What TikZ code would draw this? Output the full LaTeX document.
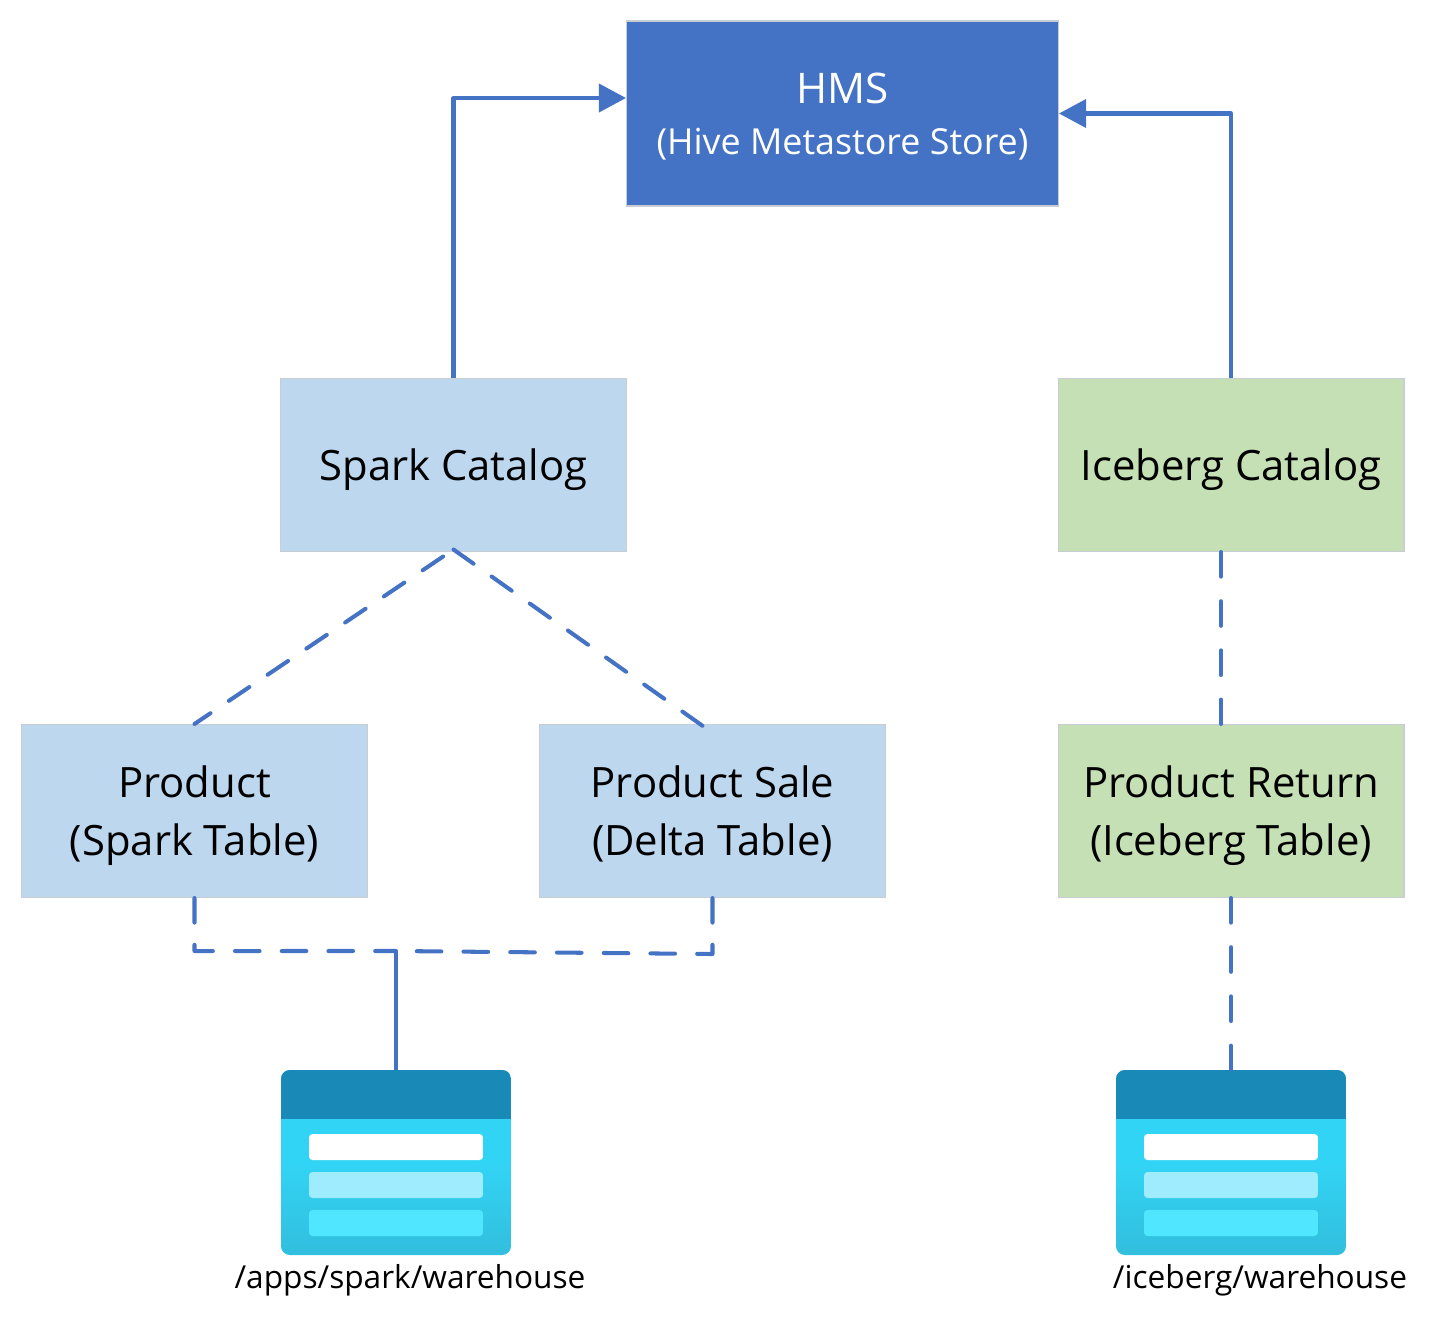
\documentclass[tikz,border=0pt]{standalone}
\usepackage{fontspec}
\setmainfont{Open Sans}
\usepackage{tikz}
\usetikzlibrary{arrows.meta, positioning, calc}
\definecolor{inkblue}{RGB}{68, 114, 196}
\definecolor{edgegray}{RGB}{200, 205, 212}
\definecolor{sparkfill}{RGB}{189, 215, 238}
\definecolor{icebergfill}{RGB}{197, 224, 180}
\definecolor{storetop}{RGB}{25, 138, 184}
\definecolor{storebody}{RGB}{50, 212, 245}
\definecolor{storelow}{RGB}{50, 190, 221}
\definecolor{barmid}{RGB}{160, 236, 255}
\definecolor{barlow}{RGB}{80, 230, 255}
\tikzset{
    blk/.style    ={draw=edgegray, line width=0.6pt, minimum width=6.92cm, minimum height=3.46cm,
                    align=center, inner sep=0pt, text depth=0pt, font=\fontsize{23.8}{33}\selectfont},
    sparkblk/.style ={blk, fill=sparkfill},
    iceblk/.style   ={blk, fill=icebergfill},
    hmsblk/.style   ={blk, fill=inkblue, text=white, minimum width=8.64cm, minimum height=3.7cm},
    ar/.style     ={-{Triangle[length=15.5pt, width=16pt]}, line width=2.3pt, draw=inkblue, line join=round},
    dsh/.style    ={line width=2.3pt, draw=inkblue, line cap=round, line join=round,
                    dash pattern=on 14pt off 12.6pt},
    dshv/.style   ={dsh, dash pattern=on 14pt off 14pt},
    sld/.style    ={line width=2.3pt, draw=inkblue},
    storebox/.style={rounded corners=5pt, minimum width=4.6cm, minimum height=3.7cm, inner sep=0pt,
                    top color=storebody, bottom color=storelow, middle color=storebody,
                    path picture={\fill[storetop, sharp corners] (path picture bounding box.north west) rectangle
                      ([yshift=-0.98cm]path picture bounding box.north east);}},
    barbox/.style ={rounded corners=2pt, minimum width=3.48cm, minimum height=0.52cm, inner sep=0pt},
    lbl/.style    ={font=\fontsize{18}{22}\selectfont, inner sep=0pt}
}
\newcommand{\storeicon}[3]{%
  \node[storebox] (#1) at (#2, #3) {};
  \node[barbox, fill=white]  (#1a) at ([yshift= 0.31cm]#1.center) {};
  \node[barbox, fill=barmid] (#1b) at ([yshift=-0.45cm]#1.center) {};
  \node[barbox, fill=barlow] (#1c) at ([yshift=-1.21cm]#1.center) {};
}

\begin{document}
\begin{tikzpicture}[x=0.02cm, y=-0.02cm]
  \useasboundingbox (0, 0) rectangle (1447, 1336);

  % ---- metastore
  \node[hmsblk] (hms) at (842.5, 113.5)
       {{\fontsize{24}{28}\selectfont HMS}\\[-4pt]{\fontsize{20.4}{28}\selectfont (Hive Metastore Store)}};

  % ---- catalogs
  \node[sparkblk] (sparkcat) at (453.5, 465) {Spark Catalog};
  \node[iceblk]   (icecat)   at (1231, 465) {Iceberg Catalog};

  % ---- tables
  \node[sparkblk] (product) at (194.5, 811) {Product\\(Spark Table)};
  \node[sparkblk] (sale)    at (712.5, 811) {Product Sale\\(Delta Table)};
  \node[iceblk]   (return)  at (1231, 811)  {Product Return\\(Iceberg Table)};

  % ---- storage
  \storeicon{sparkstore}{396}{1162.5}
  \storeicon{icestore}{1231}{1162.5}
  \node[lbl] (sparkpath) at (410, 1280) {/apps/spark/warehouse};
  \node[lbl] (icepath)   at (1260, 1280) {/iceberg/warehouse};

  % ---- catalog to metastore
  \draw[ar] (sparkcat.north) |- ([yshift=0.31cm]hms.west);
  \draw[ar] (icecat.north) |- (hms.east);

  % ---- catalog to tables
  \draw[dsh, dash phase=3pt] (product.north) -- ([yshift=0.05cm]sparkcat.south);
  \draw[dsh] ([yshift=0.05cm]sparkcat.south) -- ([xshift=-0.18cm, yshift=-0.05cm]sale.north);
  \draw[dshv] ([xshift=-0.2cm]icecat.south) -- ([xshift=-0.2cm]return.north);

  % ---- tables to storage
  \coordinate (join) at (sparkstore.north |- 0, 951);
  \draw[dsh] (product.south) -- ++(0, 53) -- (join);
  \draw[dsh] (sale.south) -- ++(0, 56) -- (join);
  \draw[sld] (join) -- (sparkstore.north);
  \draw[dshv] (return.south) -- (icestore.north);
\end{tikzpicture}
\end{document}
